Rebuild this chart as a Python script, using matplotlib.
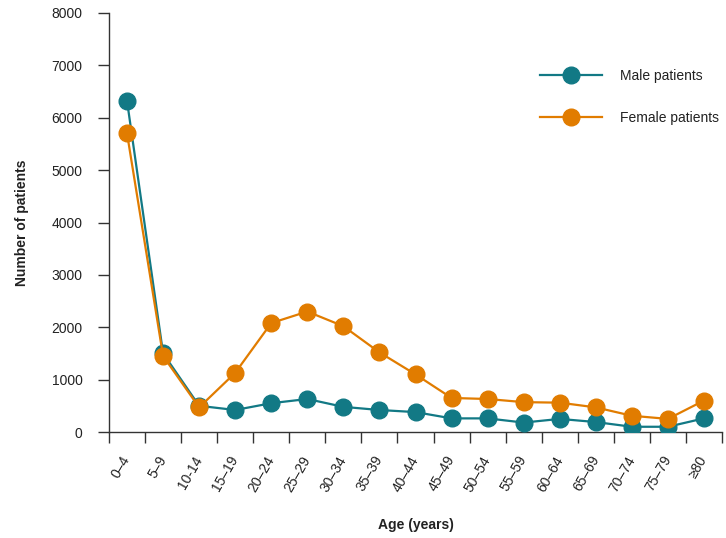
import matplotlib
matplotlib.use('Agg')
import matplotlib.pyplot as plt
import numpy as np

plt.rcParams['font.family'] = ['Liberation Sans', 'DejaVu Sans']

# age groups and patient counts
age_groups = ['0–4', '5–9', '10-14', '15–19', '20–24', '25–29', '30–34', '35–39',
              '40–44', '45–49', '50–54', '55–59', '60–64', '65–69', '70–74', '75–79', '≥80']
male = [6320, 1500, 500, 420, 550, 630, 480, 420, 380, 260, 260, 180, 250, 190, 100, 100, 260]
female = [5700, 1450, 470, 1130, 2080, 2300, 2020, 1520, 1100, 650, 630, 570, 560, 470, 310, 250, 600]
y_ticks = [0, 1000, 2000, 3000, 4000, 5000, 6000, 7000, 8000]

teal = '#127985'
orange = '#E17C00'
txt = '#222222'

fig = plt.figure(figsize=(7.26, 5.38), dpi=100)
ax = fig.add_axes([109 / 726, 1 - 432 / 538, (722 - 109) / 726, (432 - 13) / 538])

x = np.arange(len(age_groups))
ax.plot(x, male, color=teal, lw=1.6, marker='o', ms=12, mec=teal, label='Male patients', zorder=3)
ax.plot(x, female, color=orange, lw=1.6, marker='o', ms=12, mec=orange, label='Female patients', zorder=4)

ax.set_xlim(-0.5, len(age_groups) - 0.5)
ax.set_ylim(0, 8000)
ax.set_yticks(y_ticks)
ax.set_yticklabels([str(v) for v in y_ticks], fontsize=10, color=txt)

# ticks between the groups, labels at the centre
ax.set_xticks(np.arange(-0.5, len(age_groups)))
ax.set_xticklabels([])
ax.set_xticks(x, minor=True)
ax.set_xticklabels(age_groups, minor=True, rotation=60, ha='right', va='center',
                   rotation_mode='anchor', fontsize=10, color=txt)
ax.tick_params(axis='x', which='major', direction='out', length=8, width=1, color='#333333')
ax.tick_params(axis='x', which='minor', length=0, pad=18)
ax.tick_params(axis='y', direction='out', length=8, width=1, color='#333333', pad=11)

for s in ['top', 'right']:
    ax.spines[s].set_visible(False)
for s in ['left', 'bottom']:
    ax.spines[s].set_color('#333333')
    ax.spines[s].set_linewidth(1)

ax.set_ylabel('Number of patients', fontsize=10, fontweight='bold', color=txt, labelpad=16)
ax.set_xlabel('Age (years)', fontsize=10, fontweight='bold', color=txt, labelpad=17)

ax.legend(loc='upper left', bbox_to_anchor=(533 / 726, 1 - 62 / 538), bbox_transform=fig.transFigure,
          frameon=False, fontsize=10, handlelength=4.5, handletextpad=1.3, labelspacing=2.0,
          borderpad=0, labelcolor=txt)

fig.savefig('out.png', dpi=100)
